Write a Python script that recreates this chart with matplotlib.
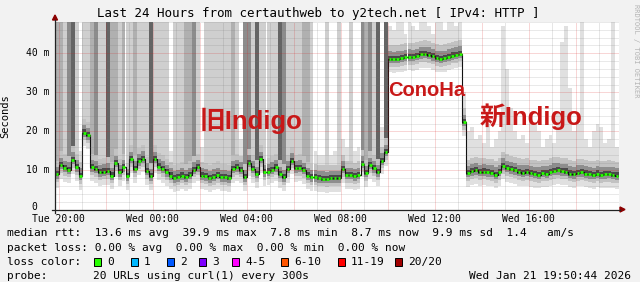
import matplotlib
matplotlib.use("Agg")
import matplotlib.pyplot as plt
import numpy as np
from matplotlib.patches import Rectangle, Polygon
from matplotlib.lines import Line2D
from matplotlib.transforms import Affine2D

# ---------------- data ----------------
start_hour = -0.155          # Tue 19:50:44, in hours relative to Tue 20:00
step_hours = 10 / 60.0       # 10-minute bins

old_indigo_median = [
    9.0, 11.4, 10.6, 10.2, 12.7, 10.8, 8.6, 19.7, 19.0, 10.8,
    10.4, 9.5, 9.7, 9.9, 8.7, 11.9, 9.5, 10.8, 8.5, 12.9,
    10.4, 12.3, 13.0, 9.9, 8.5, 12.9, 11.0, 10.4, 9.5, 8.7,
    8.0, 8.2, 8.7, 8.2, 8.8, 10.2, 10.8, 8.7, 8.5, 8.0,
    8.4, 8.8, 8.2, 8.2, 8.0, 10.4, 10.8, 10.2, 8.2, 12.0,
    10.4, 9.1, 12.9, 9.5, 9.7, 10.2, 10.8, 9.1, 8.2, 10.4,
    12.5, 10.5, 10.7, 10.1, 8.7, 8.2, 8.2, 8.0, 7.9, 7.8,
    8.0, 8.0, 8.0, 10.4, 8.8, 8.8, 8.5, 8.8, 11.7, 9.3,
    11.4, 10.5, 9.5, 12.5, 14.7]
conoha_median = [38.6, 38.5, 38.6, 38.8, 39.0, 39.1, 39.0, 39.3, 39.7, 39.8,
                 39.6, 39.2, 38.8, 38.6, 38.8, 39.1, 39.4, 39.6, 39.9]
transition_median = [22.4]
new_indigo_median = [
    9.3, 9.8, 10.0, 9.6, 9.7, 9.5, 9.4, 8.9, 9.6, 11.2,
    10.6, 10.3, 10.0, 9.6, 9.4, 9.6, 9.3, 9.1, 8.9, 9.3,
    9.2, 9.6, 9.9, 10.0, 9.8, 9.7, 9.2, 9.0, 9.4, 9.5,
    9.2, 9.0, 8.8, 9.2, 8.9, 9.0, 9.1, 8.9, 8.7]

old_indigo_smoke_top = [
    16, 18, 17, 19, 21, 17, 15, 30, 28, 18,
    17, 16, 17, 18, 16, 20, 17, 19, 16, 21,
    18, 22, 23, 17, 16, 21, 19, 17, 16, 15,
    15, 15, 16, 15, 16, 18, 19, 16, 15, 15,
    15, 16, 15, 15, 15, 18, 19, 18, 15, 21,
    18, 16, 22, 17, 17, 18, 19, 16, 15, 18,
    21, 18, 19, 18, 16, 15, 15, 14, 14, 14,
    14, 15, 14, 18, 16, 16, 15, 16, 20, 17,
    20, 18, 17, 21, 24]
conoha_smoke_top = [47, 46, 48, 48, 45, 48, 47, 46, 48, 48,
                    47, 45, 48, 48, 46, 48, 48, 47, 48]
transition_smoke_top = [30]
new_indigo_smoke_top = [
    20, 21, 18, 19, 17, 22, 16, 18, 20, 47,
    36, 26, 20, 18, 19, 17, 24, 22, 20, 16,
    18, 19, 17, 25, 43, 47, 31, 20, 22, 48,
    18, 16, 20, 22, 21, 17, 18, 48, 16]

# darkness of the columns of slow probes that run off the top (0 = none)
old_indigo_column = [
    2, 2, 1, 3, 4, 1, 0, 1, 1, 2,
    3, 1, 1, 4, 2, 2, 1, 2, 1, 1,
    2, 1, 1, 1, 4, 1, 1, 1, 1, 0,
    1, 1, 1, 2, 2, 3, 1, 0, 1, 1,
    1, 1, 1, 1, 1, 2, 1, 0, 3, 3,
    1, 4, 1, 1, 1, 1, 1, 4, 3, 1,
    1, 1, 1, 2, 2, 1, 0, 0, 0, 1,
    0, 0, 1, 0, 0, 1, 0, 0, 3, 2,
    3, 1, 4, 0, 4]

xtick_hours = [0, 4, 8, 12, 16, 20]
xtick_labels = ["Tue 20:00", "Wed 00:00", "Wed 04:00", "Wed 08:00", "Wed 12:00", "Wed 16:00"]
ytick_values = [0, 10, 20, 30, 40]
ytick_labels = ["0", "10 m", "20 m", "30 m", "40 m"]

title = "Last 24 Hours from certauthweb to y2tech.net [ IPv4: HTTP ]"
stats_rtt = "median rtt:  13.6 ms avg  39.9 ms max  7.8 ms min  8.7 ms now  9.9 ms sd  1.4   am/s"
stats_loss = "packet loss: 0.00 % avg  0.00 % max  0.00 % min  0.00 % now"
loss_labels = ["0", "1", "2", "3", "4-5", "6-10", "11-19", "20/20"]
loss_colors = ["#26ff00", "#00b8ff", "#0059ff", "#7e00ff", "#ff00ff", "#ff5500", "#ff0000", "#a10000"]
probe_text = "20 URLs using curl(1) every 300s"
date_text = "Wed Jan 21 19:50:44 2026"

# ---------------- figure ----------------
W, H = 640, 282
fig = plt.figure(figsize=(W / 100, H / 100), dpi=100)
fig.patch.set_facecolor("#f2f2f2")
PX = Affine2D().scale(1.0 / W, -1.0 / H).translate(0, 1) + fig.transFigure
MONO = "DejaVu Sans Mono"

L, R, T, B = 55, 619, 22, 209.5
ax = fig.add_axes([L / W, 1 - B / H, (R - L) / W, (B - T) / H])
ax.set_facecolor("white")
YMAX = 48
ax.set_xlim(start_hour, start_hour + 24)
ax.set_ylim(0, YMAX)
for s in ax.spines.values():
    s.set_visible(False)

median = np.array(old_indigo_median + conoha_median + transition_median + new_indigo_median)
smoke_top = np.array(old_indigo_smoke_top + conoha_smoke_top + transition_smoke_top + new_indigo_smoke_top, float)
column = np.array(old_indigo_column + [0] * (len(median) - len(old_indigo_column)))
t = start_hour + step_hours * np.arange(len(median))

bar_kw = dict(width=step_hours, align="edge", linewidth=0, antialiased=False)
# light outer smoke
ax.bar(t, smoke_top - (median - 3.5), bottom=median - 3.5, color="#e0e0e0", **bar_kw)
# columns running off the top
shade_colors = {1: "#cfcfcf", 2: "#b0b0b0", 3: "#8c8c8c", 4: "#646464"}
for lvl, col in shade_colors.items():
    m = column == lvl
    if m.any():
        ax.bar(t[m], YMAX + 5 - (median[m] + 2.0), bottom=median[m] + 2.0, color=col, **bar_kw)
# softer inner smoke bands
ax.bar(t, 5.5, bottom=median - 2.0, color="#c2c2c2", **bar_kw)
ax.bar(t, 3.0, bottom=median - 1.1, color="#8e8e8e", **bar_kw)
ax.bar(t, 1.3, bottom=median - 0.5, color="#4a4a4a", **bar_kw)

# median line
ax.step(t + step_hours / 2, median, where="mid", color="#111111", lw=0.8, zorder=4)
ax.hlines(median, t + 0.15 * step_hours, t + 0.85 * step_hours, color=loss_colors[0], lw=2.0, zorder=5)

# grid (drawn over the graph, rrdtool style)
for h in range(0, 24):
    major = h % 2 == 0
    ax.axvline(h, color=(0.85, 0.1, 0.1, 0.35) if major else (0.45, 0.45, 0.45, 0.35),
               lw=0.72, ls=(0, (1, 1)), zorder=6)
for v in range(2, YMAX + 1, 2):
    major = v % 10 == 0
    ax.axhline(v, color=(0.85, 0.1, 0.1, 0.35) if major else (0.45, 0.45, 0.45, 0.3),
               lw=0.72, ls=(0, (1, 1)), zorder=6)

ax.set_xticks(xtick_hours)
ax.set_xticklabels(xtick_labels, family=MONO, fontsize=7)
ax.tick_params(axis="x", length=0, pad=3)
ax.set_yticks([])

# axes + arrows
fig.add_artist(Line2D([52, 620], [B, B], color="#222222", lw=0.9, transform=PX))
fig.add_artist(Line2D([L, L], [B + 3, 20], color="#222222", lw=0.9, transform=PX))
fig.add_artist(Polygon([[620, B - 2.5], [620, B + 2.5], [625, B]], closed=True,
                       color="#8b0000", transform=PX))
fig.add_artist(Polygon([[L - 2.5, 20], [L + 2.5, 20], [L, 15]], closed=True,
                       color="#8b0000", transform=PX))

# y tick labels
for v, lab in zip(ytick_values, ytick_labels):
    y = B - v * (B - T) / YMAX
    if v == 0:
        y -= 2.5
    x = 25.6 if len(lab) > 1 else 31.5
    fig.text(x, y, lab, transform=PX, family=MONO, fontsize=7, ha="left", va="center")

fig.text(5, 116, "Seconds", transform=PX, family=MONO, fontsize=7.5, rotation=90,
         ha="center", va="center")
fig.text(318, 13, title, transform=PX, family=MONO, fontsize=9, ha="center", va="center")
fig.text(636, 4, "RRDTOOL / TOBI OETIKER", transform=PX, family=MONO, fontsize=5,
         rotation=270, ha="center", va="top", color="#b4b4b4")

# annotations
ann = dict(transform=PX, family=["Liberation Sans", "Noto Sans CJK JP"], weight="bold",
           color="#c81818", ha="left", va="baseline")
fig.text(200, 129, "旧Indigo", fontsize=18.5, **ann)
fig.text(480, 125.5, "新Indigo", fontsize=18.5, **ann)
fig.text(388, 96, "ConoHa", fontsize=14.5, **ann)

# legend area
fig.text(7, 233, stats_rtt, transform=PX, family=MONO, fontsize=8, ha="left", va="center")
fig.text(7, 248, stats_loss, transform=PX, family=MONO, fontsize=8, ha="left", va="center")
fig.text(7, 262, "loss color:", transform=PX, family=MONO, fontsize=8, ha="left", va="center")
box_x = [94, 131, 167, 199, 232, 281, 338, 395]
for bx, lab, col in zip(box_x, loss_labels, loss_colors):
    fig.add_artist(Rectangle((bx, 258), 7, 8, facecolor=col, edgecolor="#000000", lw=0.7,
                             transform=PX))
    fig.text(bx + 13, 262, lab, transform=PX, family=MONO, fontsize=8, ha="left", va="center")
fig.text(7, 276, "probe:", transform=PX, family=MONO, fontsize=8, ha="left", va="center")
fig.text(93, 276, probe_text, transform=PX, family=MONO, fontsize=8, ha="left", va="center")
fig.text(631, 276, date_text, transform=PX, family=MONO, fontsize=8, ha="right", va="center")

fig.savefig("out.png", dpi=100, facecolor=fig.get_facecolor())
